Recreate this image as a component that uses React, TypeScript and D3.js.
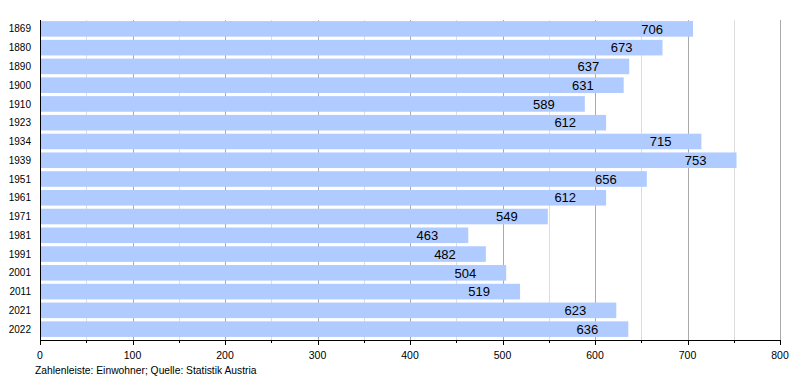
import React from "react";
import * as d3 from "d3";

const years = ["1869","1880","1890","1900","1910","1923","1934","1939","1951","1961","1971","1981","1991","2001","2011","2021","2022"];
const population = [706,673,637,631,589,612,715,753,656,612,549,463,482,504,519,623,636];
const majorTicks = [0,100,200,300,400,500,600,700,800];
const minorTicks = [50,150,250,350,450,550,650,750];
const footnote = "Zahlenleiste: Einwohner; Quelle: Statistik Austria";

export default function App() {
  const W = 800, H = 380;
  const x = d3.scaleLinear().domain([0, 800]).range([40, 780]);
  const y = d3.scaleBand<string>().domain(years).range([19.5, 338.5]).paddingInner(0.17).paddingOuter(0.085);
  const top = 20, axisY = 340;
  const font = "'Liberation Sans', Arial, sans-serif";
  return (
    <svg width={W} height={H} style={{ position: "absolute", left: 0, top: 0, background: "#fff" }} fontFamily={font}>
      {minorTicks.map((t) => (
        <line key={"mg" + t} x1={Math.round(x(t)) + 0.5} x2={Math.round(x(t)) + 0.5} y1={top} y2={axisY} stroke="#dddddd" strokeWidth={1} />
      ))}
      {majorTicks.slice(1).map((t) => (
        <line key={"Mg" + t} x1={Math.round(x(t)) + 0.5} x2={Math.round(x(t)) + 0.5} y1={top} y2={axisY} stroke="#aaaaaa" strokeWidth={1} />
      ))}
      {years.map((yr, i) => (
        <rect key={"b" + yr} x={x(0)} y={y(yr)!} width={x(population[i]) - x(0)} height={y.bandwidth()} fill="#b0cbff" />
      ))}
      {years.map((yr, i) => (
        <text key={"v" + yr} x={x(population[i]) - 30} y={y(yr)! + y.bandwidth() / 2} dy="0.36em" textAnchor="end" fontSize={13} fill="#000">
          {population[i]}
        </text>
      ))}
      {years.map((yr) => (
        <text key={"y" + yr} x={31} y={y(yr)! + y.bandwidth() / 2} dy="0.36em" textAnchor="end" fontSize={10} fill="#000">
          {yr}
        </text>
      ))}
      <line x1={40.5} x2={40.5} y1={top} y2={axisY} stroke="#000" strokeWidth={1} />
      <line x1={40} x2={x(800) + 1} y1={axisY + 0.5} y2={axisY + 0.5} stroke="#000" strokeWidth={1} />
      {majorTicks.map((t) => (
        <line key={"Mt" + t} x1={Math.round(x(t)) + 0.5} x2={Math.round(x(t)) + 0.5} y1={axisY} y2={axisY + 5} stroke="#000" />
      ))}
      {minorTicks.map((t) => (
        <line key={"mt" + t} x1={Math.round(x(t)) + 0.5} x2={Math.round(x(t)) + 0.5} y1={axisY} y2={axisY + 3} stroke="#000" />
      ))}
      {majorTicks.map((t) => (
        <text key={"tl" + t} x={x(t)} y={355} dy="0.36em" textAnchor="middle" fontSize={10.5} fill="#000">
          {t}
        </text>
      ))}
      <text x={35} y={370} dy="0.36em" fontSize={10.3} fill="#000">{footnote}</text>
    </svg>
  );
}
